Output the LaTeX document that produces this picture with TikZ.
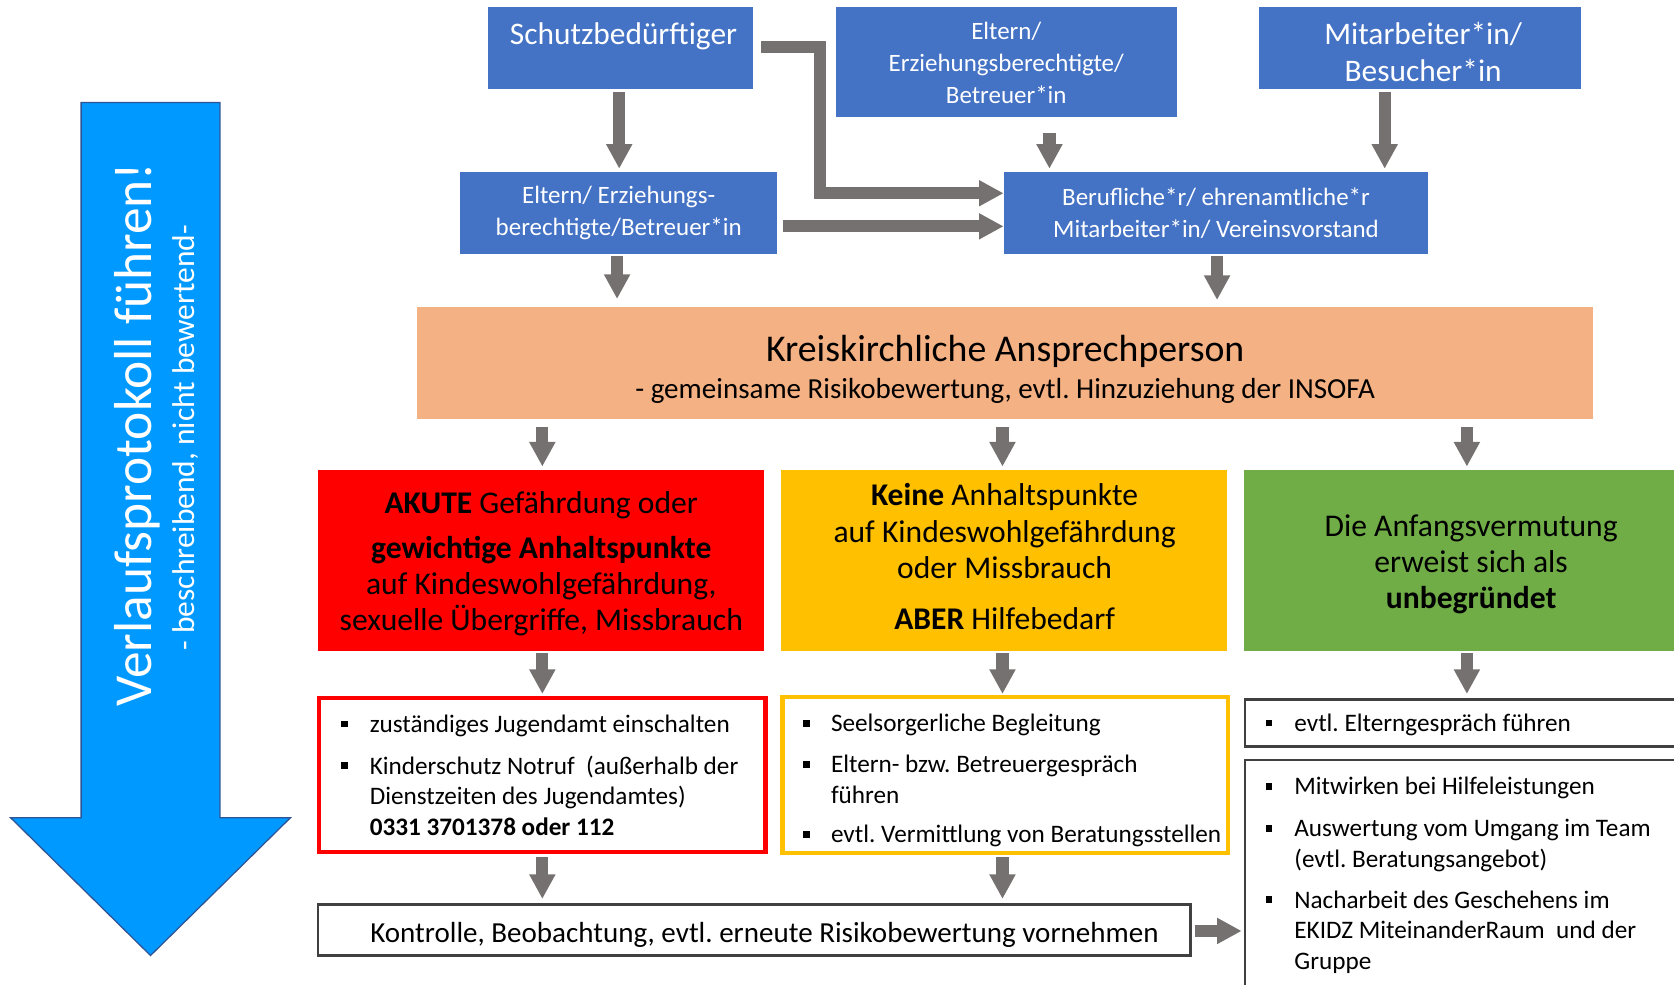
\documentclass[tikz,border=0pt]{standalone}
\usepackage{fontspec}
\setmainfont{Carlito}
\usetikzlibrary{arrows.meta,calc}
\definecolor{boxblue}{HTML}{4472C4}
\definecolor{agrey}{HTML}{767171}
\definecolor{orng}{HTML}{F4B183}
\definecolor{yel}{HTML}{FFC000}
\definecolor{grn}{HTML}{70AD47}
\definecolor{bigblue}{HTML}{0099FF}
\definecolor{bigedge}{HTML}{2F5597}
\definecolor{frame}{HTML}{404040}
\newcommand{\bsq}{\raisebox{2.3pt}{\rule{3.2pt}{3.2pt}}}
\begin{document}
\frenchspacing
\begin{tikzpicture}[x=0.5pt,y=-0.5pt,
  sz/.style 2 args={minimum width=#1*0.5pt, minimum height=#2*0.5pt},
  box/.style={anchor=north west, inner sep=0pt, outer sep=0pt, align=center},
  bluebox/.style={box, fill=boxblue, text=white},
  smallblue/.style={bluebox, font=\fontsize{11.7pt}{15pt}\selectfont},
  bigbluetxt/.style={inner sep=0pt, align=center, text=white, font=\fontsize{14.7pt}{17.5pt}\selectfont},
  coltxt/.style={inner sep=0pt, align=center, font=\fontsize{14.8pt}{17pt}\selectfont},
  framebox/.style={box, draw=frame, line width=1.25pt},
  listtxt/.style={anchor=base west, inner sep=0pt, font=\fontsize{11.8pt}{14.5pt}\selectfont},
  conn/.style={draw=agrey, line width=5.75pt, line join=miter, -{Triangle[width=11.5pt,length=11.5pt]}}]

\useasboundingbox (0,0) rectangle (1568,922);
\fill[white] (0,0) rectangle (1568,922);
\clip (0,0) rectangle (1568,922);

% big arrow
\draw[draw=bigedge, line width=0.6pt, fill=bigblue] (76,96) -- (206,96) -- (206,766) -- (272,766) -- (141,895) -- (10,766) -- (76,766) -- cycle;
\node[rotate=90, anchor=base, text=white, inner sep=0pt, font=\fontsize{25pt}{30pt}\selectfont] (vp) at (142,407) {Verlaufsprotokoll führen!};
\node[rotate=90, anchor=base, text=white, inner sep=0pt, font=\fontsize{14.75pt}{17pt}\selectfont] (vps) at (182,410) {- beschreibend, nicht bewertend-};

% top row
\node[bluebox, sz={248}{76}] (schutz) at (457,7) {};
\node[bigbluetxt] (schutzt) at (584,34) {Schutzbedürftiger};
\node[smallblue, sz={319}{103}] (eltt) at (783,7) {Eltern/\\Erziehungsberechtigte/\\Betreuer*in};
\node[bluebox, sz={302}{76}] (mit) at (1179,7) {};
\node[bigbluetxt] (mitt) at (1333,48.5) {Mitarbeiter*in/\\Besucher*in};
% second row
\node[smallblue, sz={297}{77}] (elt2) at (431,161) {Eltern/ Erziehungs-\\berechtigte/Betreuer*in};
\node[smallblue, sz={398}{77}] (ber) at (940,161) {Berufliche*r/ ehrenamtliche*r\\Mitarbeiter*in/ Vereinsvorstand};

% orange
\node[box, fill=orng, sz={1101}{104}] (orange) at (391,288) {};
\node[inner sep=0pt, align=center, font=\fontsize{13.6pt}{17.5pt}\selectfont] (oranget) at (941.5,346)
  {{\fontsize{17.7pt}{17.5pt}\selectfont Kreiskirchliche Ansprechperson}\\- gemeinsame Risikobewertung, evtl. Hinzuziehung der INSOFA};

% coloured boxes
\node[box, fill=red, sz={418}{170}] (red) at (298,440) {};
\node[coltxt] (redt) at (507,528)
  {\textbf{AKUTE} Gefährdung oder\\[4pt]\textbf{gewichtige Anhaltspunkte}\\auf Kindeswohlgefährdung,\\sexuelle Übergriffe, Missbrauch};
\node[box, fill=yel, sz={417}{170}] (yellow) at (732,440) {};
\node[coltxt] (yellowt) at (941,521.5)
  {\textbf{Keine} Anhaltspunkte\\auf Kindeswohlgefährdung\\oder Missbrauch\\[7pt]\textbf{ABER} Hilfebedarf};
\node[box, fill=grn, sz={418}{170}] (green) at (1165,440) {};
\node[coltxt] (greent) at (1378,528.5)
  {Die Anfangsvermutung\\erweist sich als\\\textbf{unbegründet}};

% list boxes
\node[box, draw=red, line width=2pt, sz={418}{144}] (rlist) at (299,654) {};
\node[listtxt] (rlt) at (319,686) {\begin{tabular}[t]{@{}p{13.5pt}@{}l@{}}
\bsq & zuständiges Jugendamt einschalten\\[5pt]
\bsq & Kinderschutz Notruf\ \ (außerhalb der\\
 & Dienstzeiten des Jugendamtes)\\
 & \textbf{0331 3701378 oder 112}
\end{tabular}};
\node[box, draw=yel, line width=2pt, sz={417}{146}] (ylist) at (733,653) {};
\node[listtxt] (ylt) at (752,685.5) {\begin{tabular}[t]{@{}p{13pt}@{}l@{}}
\bsq & Seelsorgerliche Begleitung\\[4.5pt]
\bsq & Eltern- bzw. Betreuergespräch\\
 & führen\\[4pt]
\bsq & evtl. Vermittlung von Beratungsstellen
\end{tabular}};
\node[framebox, sz={420}{44}] (rb1) at (1166,655) {};
\node[listtxt] (rb1t) at (1185,685) {\begin{tabular}[t]{@{}p{13.5pt}@{}l@{}}
\bsq & evtl. Elterngespräch führen
\end{tabular}};
\node[framebox, sz={420}{260}] (rb2) at (1166,712) {};
\node[listtxt] (rb2t) at (1185,744.5) {\begin{tabular}[t]{@{}p{13.5pt}@{}l@{}}
\bsq & Mitwirken bei Hilfeleistungen\\[5pt]
\bsq & Auswertung vom Umgang im Team\\
 & (evtl. Beratungsangebot)\\[4.5pt]
\bsq & Nacharbeit des Geschehens im\\
 & EKIDZ MiteinanderRaum\ \ und der\\
 & Gruppe
\end{tabular}};

% bottom box
\node[framebox, sz={817}{48}] (bottom) at (298,847) {};
\node[inner sep=0pt, font=\fontsize{13.6pt}{16pt}\selectfont] (bottomt) at (716,876)
  {Kontrolle, Beobachtung, evtl. erneute Risikobewertung vornehmen};

% connectors
\coordinate (bend) at (768,44);
\draw[conn] ($(schutz.south)+(-1,3)$) -- ($(elt2.north)+(0.5,-3)$);
\draw[conn] ($(eltt.south)+(40.5,15)$) -- ($(ber.north)+(-156,-3)$);
\draw[conn] ($(mit.south)+(-33,3)$) -- ($(ber.north)+(158,-3)$);
\draw[conn] ($(schutz.east)+(8,-1)$) -- (bend) |- ($(ber.west)+(0,-18.5)$);
\draw[conn] ($(elt2.east)+(5,12.5)$) -- ($(ber.west)+(0,12.5)$);
\draw[conn] ($(elt2.south)+(-1.5,2)$) -- ($(orange.north)+(-363.5,-8)$);
\draw[conn] ($(ber.south)+(1,2)$) -- ($(orange.north)+(198.5,-7)$);
\draw[conn] ($(orange.south)+(-433.5,8)$) -- ($(red.north)+(1,-3)$);
\draw[conn] ($(orange.south)+(-2.5,8)$) -- ($(yellow.north)+(-1.5,-3)$);
\draw[conn] ($(orange.south)+(432.5,8)$) -- ($(green.north)+(0,-3)$);
\draw[conn] ($(red.south)+(1,2)$) -- ($(rlist.north)+(0,-4)$);
\draw[conn] ($(yellow.south)+(-1.5,2)$) -- ($(ylist.north)+(-2.5,-3)$);
\draw[conn] ($(green.south)+(0,2)$) -- ($(rb1.north)+(-2,-5)$);
\draw[conn] ($(rlist.south)+(0,5)$) -- ($(bottom.north)+(-198.5,-5)$);
\draw[conn] ($(ylist.south)+(-2.5,4)$) -- ($(bottom.north)+(232.5,-5)$);
\draw[conn] ($(bottom.east)+(4,1)$) -- ($(bottom.east -| rb2.west)+(-3,1)$);
\end{tikzpicture}
\end{document}
